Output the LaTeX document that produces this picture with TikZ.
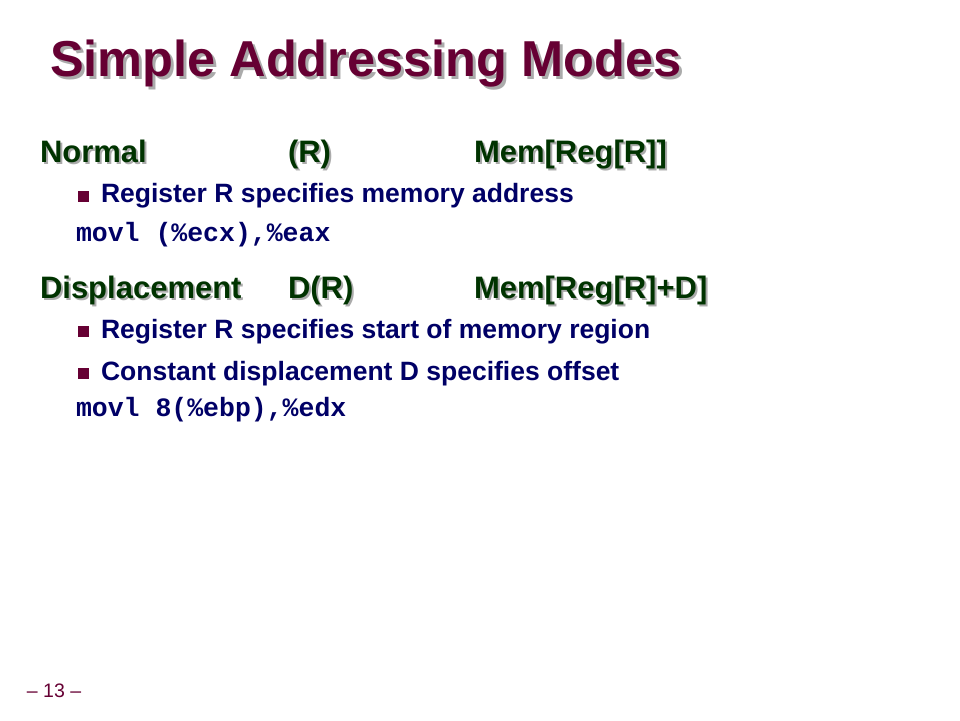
\documentclass[tikz,border=0pt]{standalone}
\usepackage{fontspec}
\setmainfont{Liberation Sans}
\newfontfamily\codefont{Liberation Mono}
\definecolor{titlered}{HTML}{660033}
\definecolor{headgreen}{HTML}{003300}
\definecolor{textnavy}{HTML}{000066}
\definecolor{shadowgray}{HTML}{ABABAB}
\begin{document}
\begin{tikzpicture}[x=1pt,y=-1pt,
  every node/.style={inner sep=0pt,outer sep=0pt,anchor=base west},
  titletext/.style={text=titlered,font=\fontsize{50.5}{56}\selectfont\bfseries},
  titleshadow/.style={text=shadowgray,font=\fontsize{50.5}{56}\selectfont\bfseries},
  headtext/.style={text=headgreen,font=\fontsize{31}{34}\selectfont\bfseries},
  headshadow/.style={text=shadowgray,font=\fontsize{31}{34}\selectfont\bfseries},
  bullettext/.style={text=textnavy,font=\fontsize{26.5}{29}\selectfont\bfseries},
  codetext/.style={text=textnavy,font=\fontsize{26.5}{30}\selectfont\codefont\bfseries},
  bulletsq/.style={fill=titlered,minimum size=11pt,anchor=center,inner sep=0pt},
  pagenum/.style={text=titlered,font=\fontsize{19.5}{22}\selectfont}]
\useasboundingbox (0,0) rectangle (960,720);
% title
\node[titleshadow] (titleS) at (53,79) {Simple Addressing Modes};
\node[titletext] (title) at (50,76) {Simple Addressing Modes};
% Normal
\node[headshadow] (h1aS) at (42,164.5) {Normal};
\node[headtext] (h1a) at (40,162.5) {Normal};
\node[headshadow] (h1bS) at (290,164.5) {(R)};
\node[headtext] (h1b) at (288,162.5) {(R)};
\node[headshadow] (h1cS) at (476,164.5) {Mem[Reg[R]]};
\node[headtext] (h1c) at (474,162.5) {Mem[Reg[R]]};
\node[bulletsq] (b1) at (83.5,196) {};
\node[bullettext] (t1) at (101,202.5) {Register R specifies memory address};
\node[codetext] (c1) at (76,241.5) {movl (\%ecx),\%eax};
% Displacement
\node[headshadow] (h2aS) at (42,300.5) {Displacement};
\node[headtext] (h2a) at (40,298.5) {Displacement};
\node[headshadow] (h2bS) at (290,300.5) {D(R)};
\node[headtext] (h2b) at (288,298.5) {D(R)};
\node[headshadow] (h2cS) at (476,300.5) {Mem[Reg[R]+D]};
\node[headtext] (h2c) at (474,298.5) {Mem[Reg[R]+D]};
\node[bulletsq] (b2) at (83.5,331) {};
\node[bullettext] (t2) at (101,338) {Register R specifies start of memory region};
\node[bulletsq] (b3) at (83.5,373.5) {};
\node[bullettext] (t3) at (101,380) {Constant displacement D specifies offset};
\node[codetext] (c2) at (76,416.5) {movl 8(\%ebp),\%edx};
% page number
\node[pagenum] (pn) at (27,697) {– 13 –};
\end{tikzpicture}
\end{document}
